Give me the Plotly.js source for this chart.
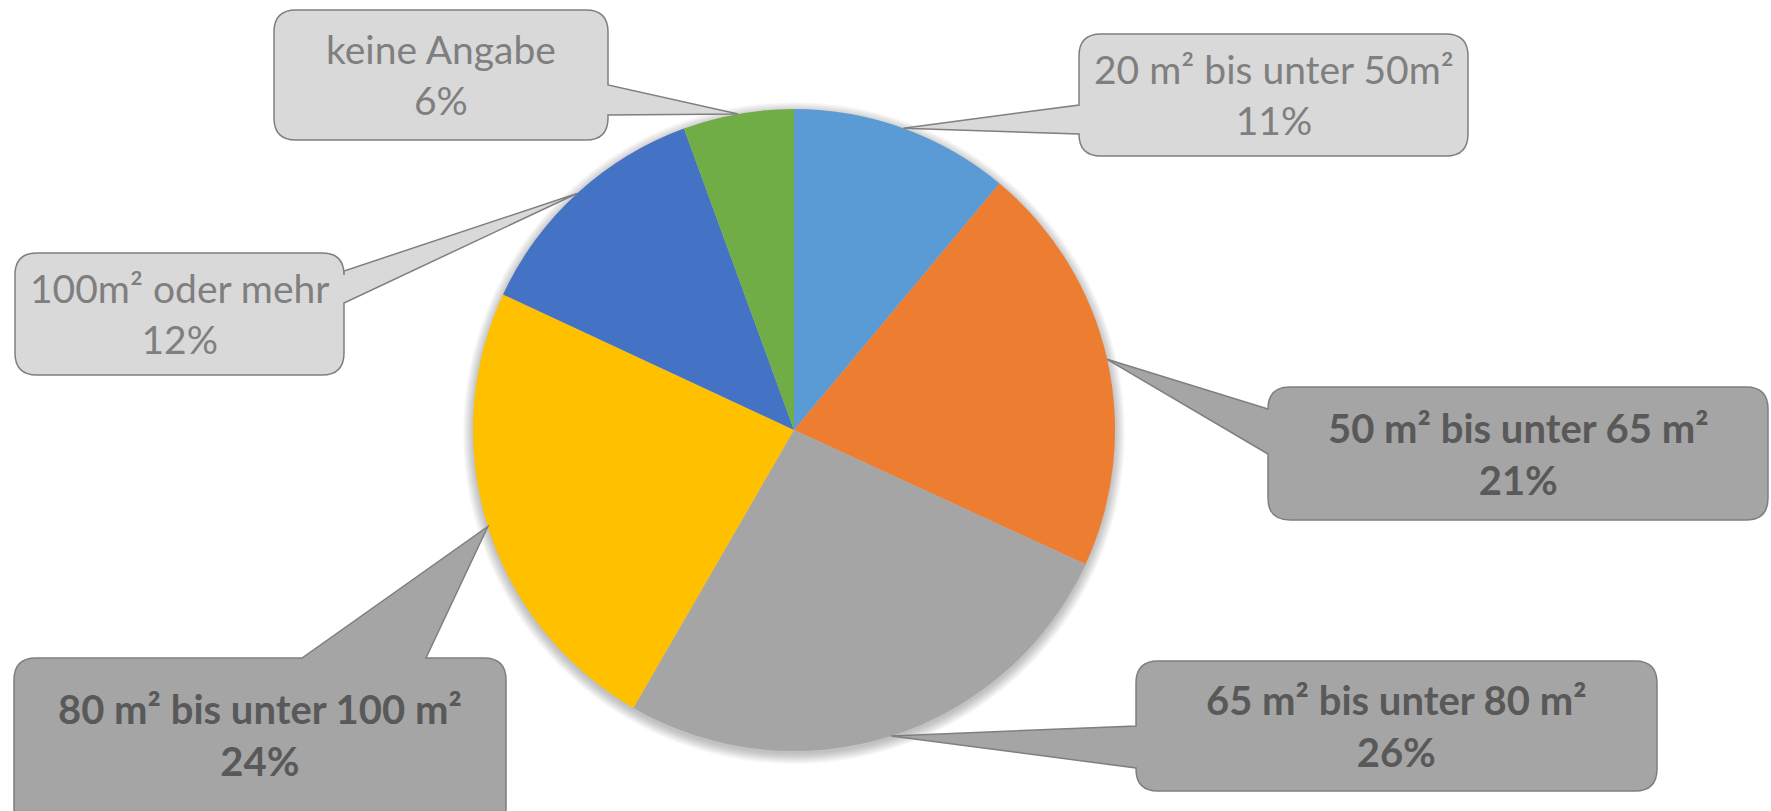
<!DOCTYPE html>
<html>
<head>
<meta charset="utf-8">
<script src="https://cdn.plot.ly/plotly-3.0.1.min.js"></script>
<style>html,body{margin:0;padding:0;background:#fff;}#chart{width:1771px;height:811px;}</style>
</head>
<body>
<div id="chart"></div>
<script>
// ---- data ----
const categories = ["20 m² bis unter 50m²", "50 m² bis unter 65 m²", "65 m² bis unter 80 m²", "80 m² bis unter 100 m²", "100m² oder mehr", "keine Angabe"];
const values = [11.06, 20.81, 26.47, 23.60, 12.49, 5.57];
const percentLabels = ["11%", "21%", "26%", "24%", "12%", "6%"];
const sliceColors = ["#5B9BD5", "#ED7D31", "#A5A5A5", "#FFC000", "#4472C4", "#70AD47"];
const calloutStyle = ["light", "dark", "dark", "dark", "light", "light"];

// ---- layout constants (pixels) ----
const W = 1771, H = 811;
const CX = 794, CY = 430, R = 321;
// callout boxes: [x0, y0, x1, y1, side, a, b]
const boxes = [
  [1079, 34, 1468, 156, "left", 105, 134],
  [1268, 387, 1768, 520, "left", 409, 454],
  [1136, 661, 1657, 791, "left", 726, 768],
  [14, 658, 506, 830, "top", 302, 426],
  [15, 253, 344, 375, "right", 271, 303],
  [274, 10, 608, 140, "right", 85, 115]
];

const total = values.reduce((s, v) => s + v, 0);
const px = x => x / W;
const py = y => 1 - y / H;
const P = (x, y) => px(x).toFixed(5) + "," + py(y).toFixed(5);

function calloutPath(b, tip) {
  const [x0, y0, x1, y1, side, a, c] = b;
  const r = 22;
  let d = "M" + P(x0 + r, y0);
  if (side === "top") d += " L" + P(a, y0) + " L" + P(tip[0], tip[1]) + " L" + P(c, y0);
  d += " L" + P(x1 - r, y0) + " Q" + P(x1, y0) + " " + P(x1, y0 + r);
  if (side === "right") d += " L" + P(x1, a) + " L" + P(tip[0], tip[1]) + " L" + P(x1, c);
  d += " L" + P(x1, y1 - r) + " Q" + P(x1, y1) + " " + P(x1 - r, y1);
  d += " L" + P(x0 + r, y1) + " Q" + P(x0, y1) + " " + P(x0, y1 - r);
  if (side === "left") d += " L" + P(x0, c) + " L" + P(tip[0], tip[1]) + " L" + P(x0, a);
  d += " L" + P(x0, y0 + r) + " Q" + P(x0, y0) + " " + P(x0 + r, y0) + " Z";
  return d;
}

const shapes = [];
// soft shadow behind the pie
for (let k = 10; k >= 0; k--) {
  const rr = R + k;
  const oy = 3;
  shapes.push({
    type: "circle", xref: "paper", yref: "paper", layer: "below",
    x0: px(CX - rr), x1: px(CX + rr), y0: py(CY + oy + rr), y1: py(CY + oy - rr),
    fillcolor: "rgba(0,0,0,0.025)", line: {width: 0}
  });
}
const annotations = [];
let cum = 0;
values.forEach((v, i) => {
  const mid = (cum + v / 2) / total * 2 * Math.PI;
  cum += v;
  const tip = [CX + R * Math.sin(mid), CY - R * Math.cos(mid)];
  const b = boxes[i];
  const dark = calloutStyle[i] === "dark";
  shapes.push({
    type: "path", xref: "paper", yref: "paper", path: calloutPath(b, tip),
    fillcolor: dark ? "#A5A5A5" : "#D9D9D9",
    line: {color: "#7F7F7F", width: 1.5}, layer: "above"
  });
  const pct = percentLabels[i];
  const txt = dark ? "<b>" + categories[i] + "</b><br><b>" + pct + "</b>" : categories[i] + "<br>" + pct;
  const yb = Math.min(b[3], H);
  annotations.push({
    xref: "paper", yref: "paper", x: px((b[0] + b[2]) / 2), y: py((b[1] + yb) / 2),
    xanchor: "center", yanchor: "middle", showarrow: false, text: txt, align: "center",
    font: {family: "Lato, 'Open Sans', sans-serif", size: dark ? 40 : 39, color: dark ? "#595959" : "#7F7F7F"}
  });
});

const trace = {
  type: "pie",
  labels: categories,
  values: values,
  marker: {colors: sliceColors, line: {width: 0}},
  sort: false,
  direction: "clockwise",
  rotation: 0,
  textinfo: "none",
  hoverinfo: "label+percent",
  showlegend: false,
  domain: {x: [(CX - R) / W, (CX + R) / W], y: [1 - (CY + R) / H, 1 - (CY - R) / H]}
};

Plotly.newPlot("chart", [trace], {
  width: W, height: H,
  margin: {l: 0, r: 0, t: 0, b: 0},
  paper_bgcolor: "#FFFFFF",
  showlegend: false,
  shapes: shapes,
  annotations: annotations
}, {displayModeBar: false, staticPlot: true});
</script>
</body>
</html>
